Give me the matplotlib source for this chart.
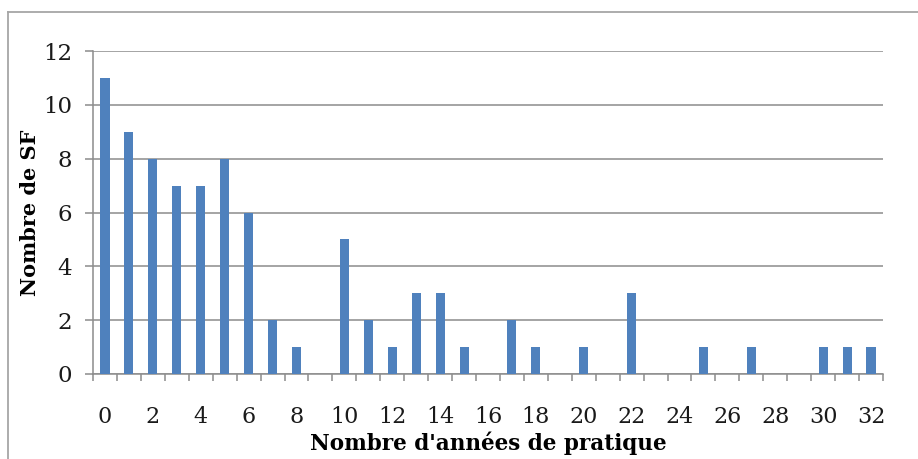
import matplotlib
matplotlib.use("Agg")
import matplotlib.pyplot as plt
from matplotlib.lines import Line2D
import numpy as np

years = list(range(0, 33))
counts = [11, 9, 8, 7, 7, 8, 6, 2, 1, 0, 5, 2, 1, 3, 3, 1, 0, 2, 1, 0, 1, 0, 3, 0, 0, 1, 0, 1, 0, 0, 1, 1, 1]
yticks = [0, 2, 4, 6, 8, 10, 12]
xlabels = [str(v) for v in range(0, 33, 2)]

W, H = 918, 459
fig = plt.figure(figsize=(W / 100, H / 100), dpi=100)
fig.patch.set_facecolor("white")

# outer chart-area border (left and top visible)
fig.add_artist(Line2D([8 / W, 8 / W], [0, 1 - 12 / H], color="#a6a6a6", lw=1.3, transform=fig.transFigure))
fig.add_artist(Line2D([8 / W, 1.0], [1 - 12 / H, 1 - 12 / H], color="#a6a6a6", lw=1.3, transform=fig.transFigure))

left, right, top, bottom = 93, 883, 51, 374
ax = fig.add_axes([left / W, 1 - bottom / H, (right - left) / W, (bottom - top) / H])

ax.bar(years, counts, width=0.38, color="#4F81BD", linewidth=0, zorder=3)

ax.set_xlim(-0.5, 32.5)
ax.set_ylim(0, 12)
ax.set_yticks(yticks)
ax.grid(axis="y", color="#8c8c8c", lw=1.1, zorder=0)

for s in ["top", "right"]:
    ax.spines[s].set_visible(False)
for s in ["left", "bottom"]:
    ax.spines[s].set_color("#8c8c8c")
    ax.spines[s].set_linewidth(1.1)

serif = "DejaVu Serif"
ax.set_xticks(np.arange(-0.5, 33, 1.0))
ax.set_xticklabels([])
ax.tick_params(axis="x", which="major", length=5, width=1.1, color="#8c8c8c", direction="out")
ax.set_xticks(list(range(0, 33, 2)), minor=True)
ax.set_xticklabels(xlabels, minor=True, fontsize=16, family=serif, color="#1a1a1a")
ax.tick_params(axis="x", which="minor", length=0, pad=23)

ax.tick_params(axis="y", length=6, width=1.1, color="#8c8c8c", pad=9, labelsize=16.5)
for t in ax.get_yticklabels():
    t.set_family(serif)
    t.set_color("#1a1a1a")

ax.set_xlabel("Nombre d'années de pratique", fontsize=15.5, fontweight="bold", family=serif, labelpad=0)
ax.xaxis.set_label_coords(0.5, -(443 - bottom) / (bottom - top), transform=ax.transAxes)
ax.xaxis.label.set_va("center")
ax.set_ylabel("Nombre de SF", fontsize=15, fontweight="bold", family=serif)
ax.yaxis.set_label_coords(-(left - 30) / (right - left), 0.5)
ax.yaxis.label.set_va("center")

fig.savefig("out.png", dpi=100)
